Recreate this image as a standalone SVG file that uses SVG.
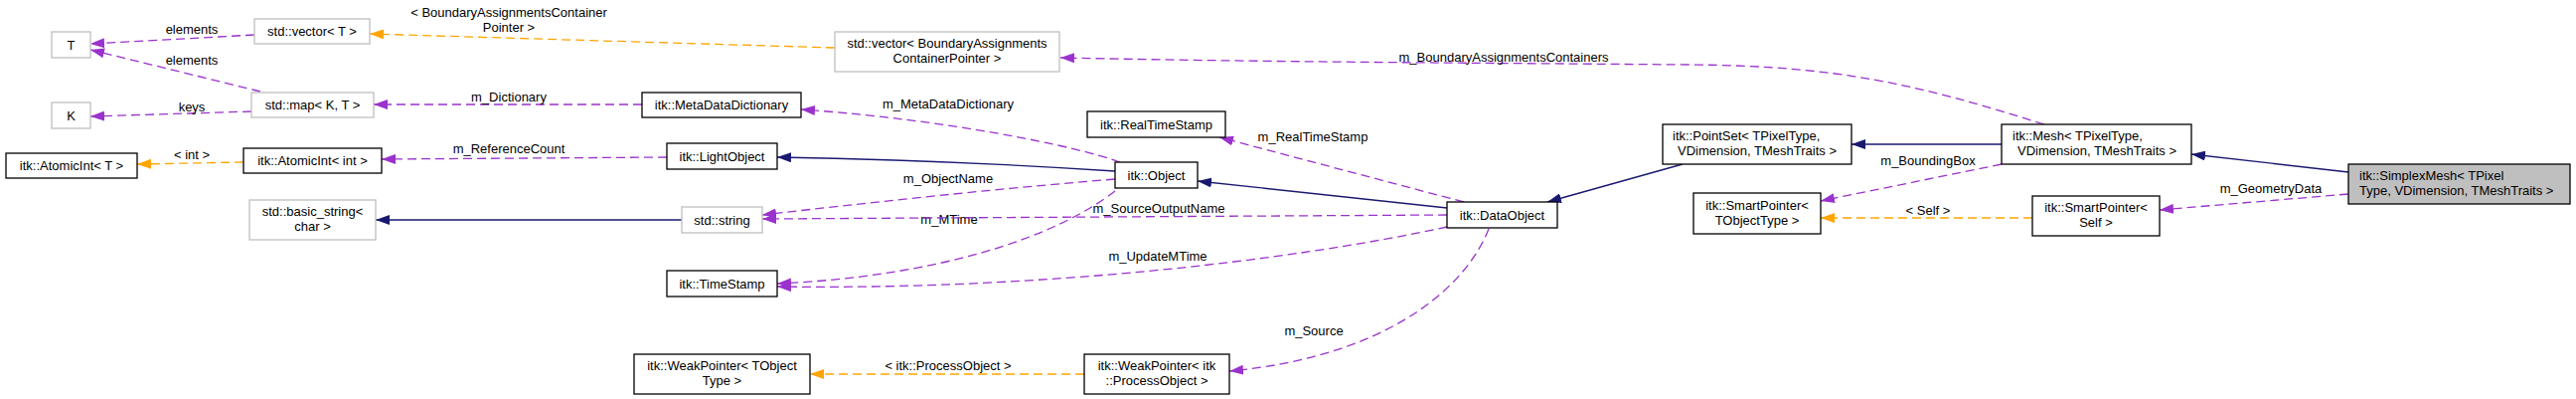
<svg xmlns="http://www.w3.org/2000/svg" width="2592" height="401" viewBox="0 0 2592 401">
<style>
text{font-family:"Liberation Sans",Arial,sans-serif;font-size:13px;fill:#000}
.c{text-anchor:middle}
.s{text-anchor:start}
.bk{fill:#fff;stroke:#000;stroke-width:1.3}
.gr{fill:#fff;stroke:#bfbfbf;stroke-width:1.3}
.hl{fill:#bfbfbf;stroke:#000;stroke-width:1.3}
.p{fill:none;stroke:#9a32cd;stroke-width:1.3;stroke-dasharray:9,5;marker-end:url(#ap)}
.o{fill:none;stroke:#ffa500;stroke-width:1.3;stroke-dasharray:9,5;marker-end:url(#ao)}
.n{fill:none;stroke:#191970;stroke-width:1.3;marker-end:url(#an)}
</style>
<defs>
<marker id="ap" markerUnits="userSpaceOnUse" markerWidth="14" markerHeight="10" refX="14" refY="5" orient="auto"><path d="M0,0 L14,5 L0,10 z" fill="#9a32cd"/></marker>
<marker id="ao" markerUnits="userSpaceOnUse" markerWidth="14" markerHeight="10" refX="14" refY="5" orient="auto"><path d="M0,0 L14,5 L0,10 z" fill="#ffa500"/></marker>
<marker id="an" markerUnits="userSpaceOnUse" markerWidth="14" markerHeight="10" refX="14" refY="5" orient="auto"><path d="M0,0 L14,5 L0,10 z" fill="#191970"/></marker>
</defs>
<rect width="2592" height="401" fill="#fff"/>
<g id="edges">
<path class="p" d="M256,35 L91,44"/>
<text class="c" x="193" y="33.5">elements</text>
<path class="p" d="M262,92 L91,50"/>
<text class="c" x="193" y="64.5">elements</text>
<path class="p" d="M253,112 L91,117"/>
<text class="c" x="193" y="111.5">keys</text>
<path class="o" d="M245,163 L138,165"/>
<text class="c" x="193" y="159.5">&lt; int &gt;</text>
<path class="n" d="M686,221 L378,221"/>
<path class="p" d="M646,105 L376,105"/>
<text class="c" x="512" y="101.5">m_Dictionary</text>
<path class="p" d="M671,158 L384,160"/>
<text class="c" x="512" y="153.5">m_ReferenceCount</text>
<path class="o" d="M840,48 L372,34"/>
<text class="c" x="512" y="16.5">&lt; BoundaryAssignmentsContainer</text>
<text class="c" x="512" y="31.5">Pointer &gt;</text>
<path class="p" d="M1127,163 C1080,146 950,120 806,110"/>
<text class="c" x="954" y="108.5">m_MetaDataDictionary</text>
<path class="n" d="M1122,172 C1000,164 900,160 782,158"/>
<path class="p" d="M1122,180 C1000,190 880,203 767,216"/>
<text class="c" x="954" y="183.5">m_ObjectName</text>
<path class="p" d="M1122,192 C1060,240 940,278 782,285"/>
<text class="c" x="955" y="224.5">m_MTime</text>
<path class="p" d="M1456,216 L767,220"/>
<text class="c" x="1166" y="213.5">m_SourceOutputName</text>
<path class="p" d="M1456,228 C1300,262 1040,292 782,288"/>
<text class="c" x="1165" y="261.5">m_UpdateMTime</text>
<path class="n" d="M1456,209 L1205,182"/>
<path class="p" d="M1473,203 L1227,138"/>
<text class="c" x="1321" y="141.5">m_RealTimeStamp</text>
<path class="p" d="M1498,230 C1470,300 1380,360 1237,373"/>
<text class="c" x="1322" y="336.5">m_Source</text>
<path class="o" d="M1091,376 L815,376"/>
<text class="c" x="954" y="371.5">&lt; itk::ProcessObject &gt;</text>
<path class="n" d="M1693,165 L1557,203"/>
<path class="n" d="M2014,145 L1863,145"/>
<path class="p" d="M2057,125 C1930,85 1850,66 1700,65 C1450,63 1250,62 1067,58"/>
<text class="c" x="1513" y="61.5">m_BoundaryAssignmentsContainers</text>
<path class="p" d="M2014,165 L1832,202"/>
<text class="c" x="1940" y="165.5">m_BoundingBox</text>
<path class="o" d="M2045,219 L1832,219"/>
<text class="c" x="1940" y="215.5">&lt; Self &gt;</text>
<path class="n" d="M2363,173 L2205,155"/>
<path class="p" d="M2363,195 L2173,211"/>
<text class="c" x="2285" y="193.5">m_GeometryData</text>
</g>
<g id="n_T"><rect class="gr" x="52" y="32" width="39" height="26"/><text class="c" x="71.5" y="49.5">T</text></g>
<g id="n_vectorT"><rect class="gr" x="256" y="19" width="116" height="25"/><text class="c" x="314" y="36">std::vector&lt; T &gt;</text></g>
<g id="n_K"><rect class="gr" x="52" y="103" width="39" height="26"/><text class="c" x="71.5" y="120.5">K</text></g>
<g id="n_map"><rect class="gr" x="253" y="93" width="123" height="25"/><text class="c" x="314.5" y="110">std::map&lt; K, T &gt;</text></g>
<g id="n_AtomicIntT"><rect class="bk" x="6" y="154" width="132" height="25"/><text class="c" x="72" y="171">itk::AtomicInt&lt; T &gt;</text></g>
<g id="n_AtomicIntInt"><rect class="bk" x="245" y="149" width="139" height="25"/><text class="c" x="314.5" y="166">itk::AtomicInt&lt; int &gt;</text></g>
<g id="n_basic_string"><rect class="gr" x="251" y="201" width="127" height="40"/><text class="c" x="314.5" y="216.5">std::basic_string&lt;</text><text class="c" x="314.5" y="232">char &gt;</text></g>
<g id="n_vectorBACP"><rect class="gr" x="840" y="32" width="226" height="40"/><text class="c" x="953" y="48">std::vector&lt; BoundaryAssignments</text><text class="c" x="953" y="63">ContainerPointer &gt;</text></g>
<g id="n_MetaDataDictionary"><rect class="bk" x="646" y="93" width="160" height="25"/><text class="c" x="726" y="110">itk::MetaDataDictionary</text></g>
<g id="n_LightObject"><rect class="bk" x="671" y="144" width="111" height="26"/><text class="c" x="726.5" y="161.5">itk::LightObject</text></g>
<g id="n_string"><rect class="gr" x="686" y="208" width="81" height="26"/><text class="c" x="726.5" y="225.5">std::string</text></g>
<g id="n_TimeStamp"><rect class="bk" x="671" y="272" width="111" height="26"/><text class="c" x="726.5" y="289.5">itk::TimeStamp</text></g>
<g id="n_WeakPointerT"><rect class="bk" x="638" y="356" width="177" height="40"/><text class="c" x="726.5" y="372">itk::WeakPointer&lt; TObject</text><text class="c" x="726.5" y="387">Type &gt;</text></g>
<g id="n_RealTimeStamp"><rect class="bk" x="1094" y="112" width="139" height="26"/><text class="c" x="1163.5" y="129.5">itk::RealTimeStamp</text></g>
<g id="n_Object"><rect class="bk" x="1122" y="163" width="83" height="26"/><text class="c" x="1163.5" y="180.5">itk::Object</text></g>
<g id="n_DataObject"><rect class="bk" x="1456" y="203" width="111" height="26"/><text class="c" x="1511.5" y="220.5">itk::DataObject</text></g>
<g id="n_WeakPointerPO"><rect class="bk" x="1091" y="356" width="146" height="40"/><text class="c" x="1164" y="372">itk::WeakPointer&lt; itk</text><text class="c" x="1164" y="387">::ProcessObject &gt;</text></g>
<g id="n_PointSet"><rect class="bk" x="1673" y="125" width="190" height="40"/><text class="s" x="1683" y="141">itk::PointSet&lt; TPixelType,</text><text class="s" x="1688" y="156">VDimension, TMeshTraits &gt;</text></g>
<g id="n_SmartPointerT"><rect class="bk" x="1704" y="194" width="128" height="41"/><text class="c" x="1768" y="210.5">itk::SmartPointer&lt;</text><text class="c" x="1768" y="225.5">TObjectType &gt;</text></g>
<g id="n_Mesh"><rect class="bk" x="2014" y="125" width="191" height="40"/><text class="s" x="2025" y="141">itk::Mesh&lt; TPixelType,</text><text class="s" x="2030" y="156">VDimension, TMeshTraits &gt;</text></g>
<g id="n_SmartPointerSelf"><rect class="bk" x="2045" y="197" width="128" height="40"/><text class="c" x="2109" y="213">itk::SmartPointer&lt;</text><text class="c" x="2109" y="228">Self &gt;</text></g>
<g id="n_SimplexMesh"><rect class="hl" x="2363" y="165" width="223" height="40"/><text class="s" x="2374" y="181">itk::SimplexMesh&lt; TPixel</text><text class="s" x="2374" y="196">Type, VDimension, TMeshTraits &gt;</text></g>
</svg>
